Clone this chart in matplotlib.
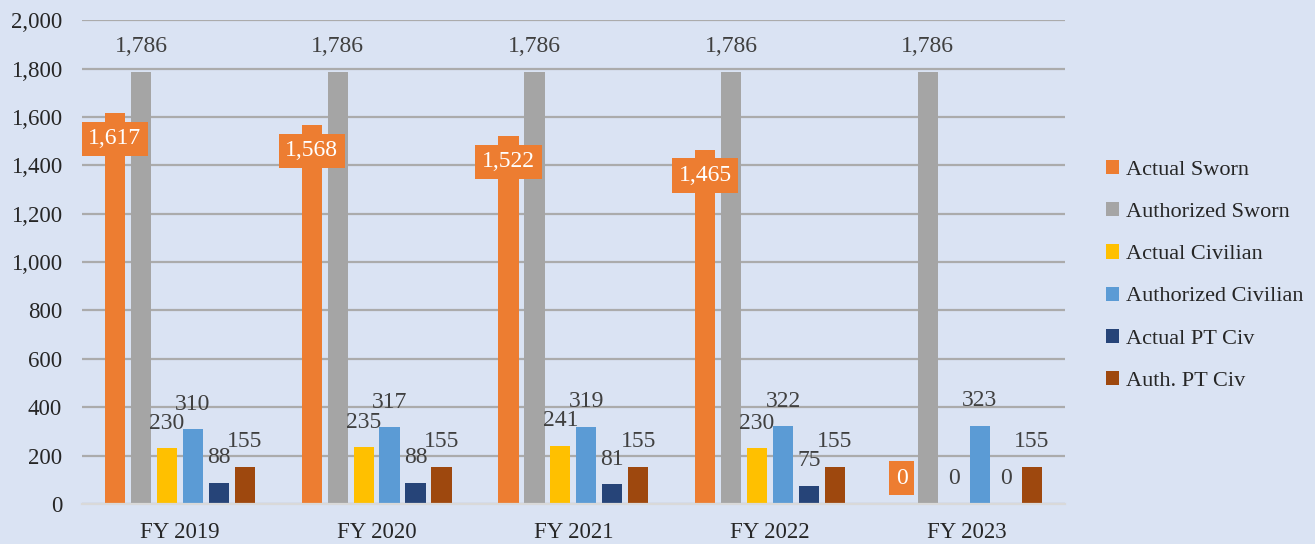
import numpy as np
import matplotlib.pyplot as plt

years = ["FY 2019", "FY 2020", "FY 2021", "FY 2022", "FY 2023"]
series = ["Actual Sworn", "Authorized Sworn", "Actual Civilian",
          "Authorized Civilian", "Actual PT Civ", "Auth. PT Civ"]
actual_sworn = [1617, 1568, 1522, 1465, 0]
auth_sworn = [1786, 1786, 1786, 1786, 1786]
actual_civ = [230, 235, 241, 230, 0]
auth_civ = [310, 317, 319, 322, 323]
actual_pt = [88, 88, 81, 75, 0]
auth_pt = [155, 155, 155, 155, 155]
values = [actual_sworn, auth_sworn, actual_civ, auth_civ, actual_pt, auth_pt]
colors = ["#ED7D31", "#A5A5A5", "#FFC000", "#5B9BD5", "#264478", "#9E480E"]

bg = "#DAE3F3"
plt.rcParams['font.family'] = ['Liberation Serif', 'DejaVu Serif']

fig = plt.figure(figsize=(13.15, 5.44), dpi=100, facecolor=bg)
ax = fig.add_axes([0.062, 0.0735, 0.748, 0.8895], facecolor=bg)

x = np.arange(len(years))
step = 0.132
width = 0.103
for k, (name, vals, c) in enumerate(zip(series, values, colors)):
    pos = x + (k - 2.5) * step
    ax.bar(pos, vals, width, color=c, label=name, zorder=3)
    for p, v in zip(pos, vals):
        lab = f"{v:,}"
        if k == 0:
            off = -26 if v > 0 else 26
            ax.annotate(lab, (p, v), xytext=(0, off * 0.72), textcoords="offset points",
                        ha="center", va="center", fontsize=17, color="white", zorder=5,
                        bbox=dict(boxstyle="square,pad=0.28", fc=c, ec="none"))
        elif v == 0:
            ax.annotate(lab, (p, v), xytext=(0, 26 * 0.72), textcoords="offset points",
                        ha="center", va="center", fontsize=17,
                        color="#7F7F7F" if k == 1 else "#404040", zorder=5)
        else:
            ax.annotate(lab, (p, v), xytext=(0, 25 * 0.72), textcoords="offset points",
                        ha="center", va="center", fontsize=17, color="#404040", zorder=5)

ax.set_xlim(-0.5, len(years) - 0.5)
ax.set_ylim(0, 2000)
ax.set_yticks(range(0, 2001, 200))
ax.set_yticklabels([f"{t:,}" for t in range(0, 2001, 200)], fontsize=16.5, color="#262626")
ax.set_xticks(x)
ax.set_xticklabels(years, fontsize=16.5, color="#262626")
ax.tick_params(axis="both", length=0)
ax.tick_params(axis="y", pad=14)
ax.tick_params(axis="x", pad=13)
ax.yaxis.grid(True, color="#ABABAB", linewidth=1.6, zorder=0)
for s in ["top", "right", "left"]:
    ax.spines[s].set_visible(False)
ax.spines["bottom"].set_color("#D9D9D9")
ax.spines["bottom"].set_linewidth(1.6)
ax.spines["bottom"].set_zorder(4)

leg = fig.legend(loc="center left", bbox_to_anchor=(0.841, 0.4936), frameon=False,
                 fontsize=16, labelspacing=1.0, handlelength=0.6, handleheight=0.6,
                 handletextpad=0.3, borderpad=0, borderaxespad=0, labelcolor="#262626")

fig.savefig("out.png", dpi=100, facecolor=bg)
